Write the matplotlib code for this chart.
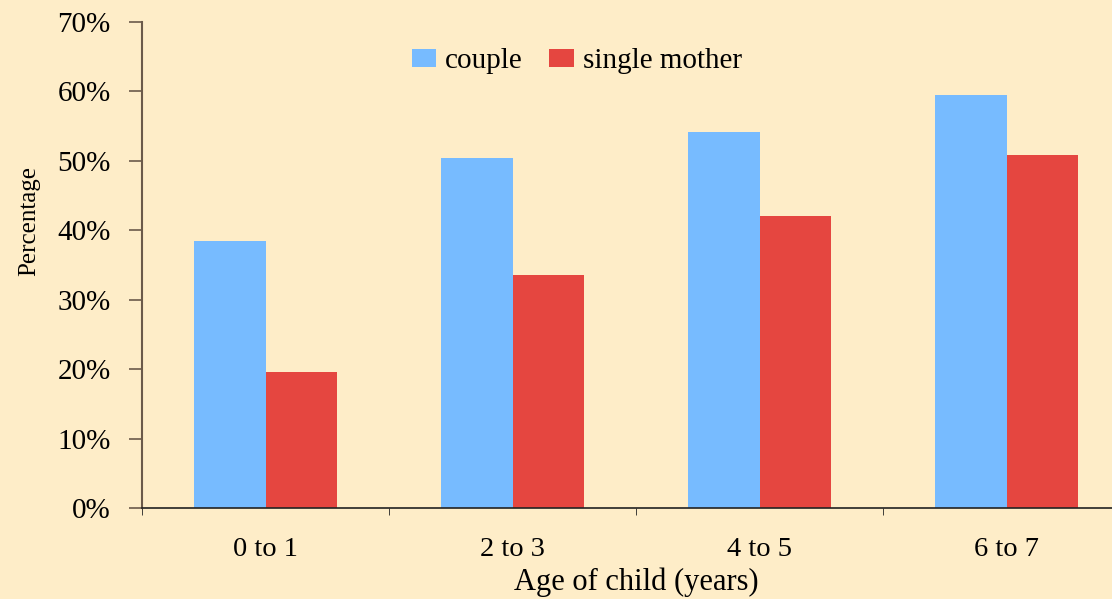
import numpy as np
import matplotlib.pyplot as plt

ages = ["0 to 1", "2 to 3", "4 to 5", "6 to 7"]
couple = [38.5, 50.4, 54.2, 59.5]
single_mother = [19.6, 33.6, 42.1, 50.8]
yticks = [0, 10, 20, 30, 40, 50, 60, 70]

bg = "#FEEDC8"
plt.rcParams["font.family"] = ["Liberation Serif", "DejaVu Serif"]

fig = plt.figure(figsize=(11.12, 5.99), dpi=100, facecolor=bg)
ax = fig.add_axes([0.1277, 0.1519, 0.8885, 0.8114], facecolor=bg)

x = np.arange(len(ages))
w = 0.29
ax.bar(x - w / 2, couple, w, color="#77BBFF", label="couple")
ax.bar(x + w / 2, single_mother, w, color="#E54640", label="single mother")

ax.set_xlim(-0.5, 3.5)
ax.set_ylim(0, 70)
ax.set_yticks(yticks)
ax.set_yticklabels([f"{v}%" for v in yticks], fontsize=21)

# category labels centred, ticks drawn on the group boundaries
ax.set_xticks(x)
ax.set_xticklabels(ages, fontsize=20.5)
ax.tick_params(axis="x", which="major", length=0, pad=21)
ax.set_xticks(np.arange(-0.5, 3.6, 1), minor=True)
ax.tick_params(axis="x", which="minor", length=5, direction="out", color="#222222")
ax.tick_params(axis="y", length=9.5, width=1.2, color="#6b5a4a", pad=13)

for s in ["top", "right"]:
    ax.spines[s].set_visible(False)
ax.spines["left"].set_color("#6b5a4a")
ax.spines["left"].set_linewidth(1.5)
ax.spines["bottom"].set_color("#222222")
ax.spines["bottom"].set_linewidth(1.2)

ax.set_ylabel("Percentage", fontsize=18)
ax.yaxis.set_label_coords(-0.103, 0.59)
ax.set_xlabel("Age of child (years)", fontsize=22, labelpad=4)

ax.legend(loc="upper center", bbox_to_anchor=(0.44, 1.0), ncol=2, frameon=False,
          fontsize=21, handlelength=0.85, handleheight=0.58, handletextpad=0.3,
          columnspacing=0.9)

fig.savefig("out.png", dpi=100, facecolor=bg)
